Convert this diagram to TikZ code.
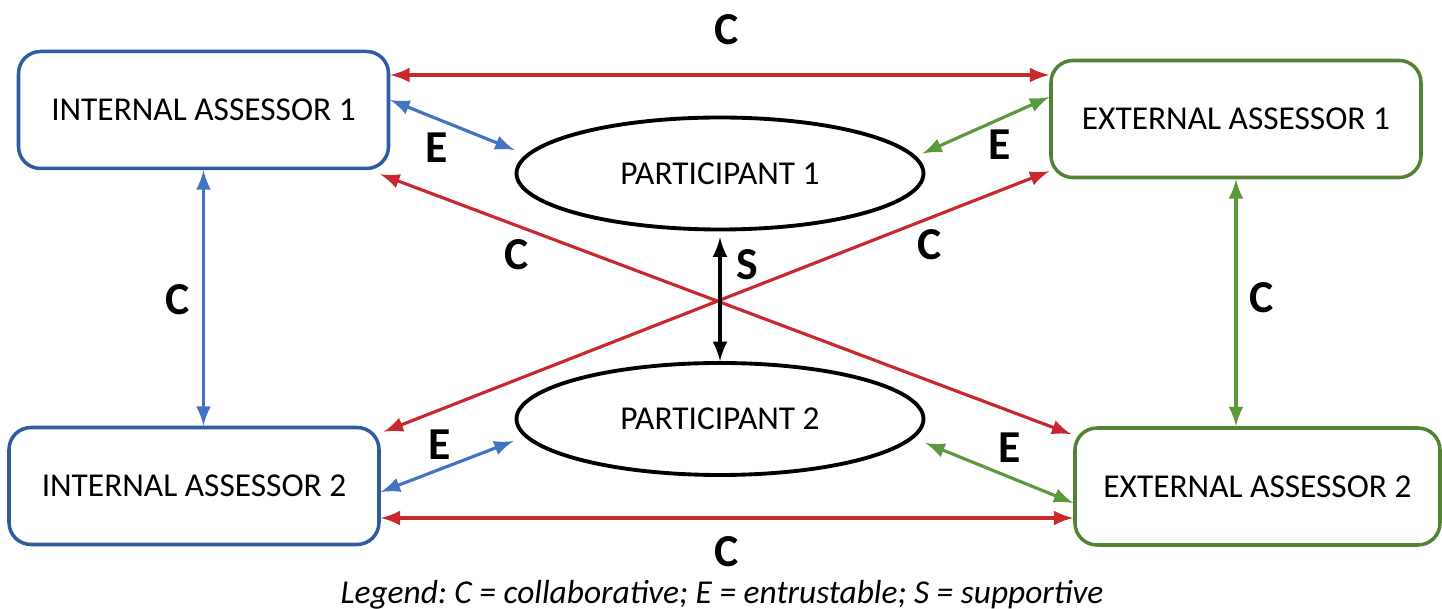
\documentclass[tikz,border=0pt]{standalone}
\usepackage{fontspec}
\setmainfont{Carlito}
\usepackage{tikz}
\usetikzlibrary{arrows,calc,positioning,shapes.geometric}
\definecolor{boxblue}{HTML}{2E5C9E}
\definecolor{arrblue}{HTML}{4472C4}
\definecolor{boxgreen}{HTML}{548235}
\definecolor{arrgreen}{HTML}{5A9A3C}
\definecolor{arrred}{HTML}{C8282E}
\frenchspacing
\begin{document}
\begin{tikzpicture}[>=latex,
	assessor/.style={draw,rounded corners=2.2mm,line width=1pt,minimum width=3.7cm,minimum height=1.17cm,font=\fontsize{9.5}{11}\selectfont},
	participant/.style={draw,ellipse,line width=1.1pt,minimum width=4.07cm,minimum height=1.12cm,inner sep=0pt,font=\fontsize{9.5}{11}\selectfont},
	link/.style={<->,line width=0.9pt},
	lab/.style={font=\fontsize{13}{15}\selectfont\bfseries}]
		\useasboundingbox (0,0) rectangle (14.42,6.09);
		\node[assessor,draw=boxblue] (ia1) at (2.035,4.99) {INTERNAL ASSESSOR 1};
		\node[assessor,draw=boxgreen] (ea1) at (12.36,4.90) {EXTERNAL ASSESSOR 1};
		\node[assessor,draw=boxblue] (ia2) at (1.94,1.23) {INTERNAL ASSESSOR 2};
		\node[assessor,draw=boxgreen,minimum width=3.65cm] (ea2) at (12.575,1.225) {EXTERNAL ASSESSOR 2};
		\node[participant] (p1) at (7.20,4.355) {PARTICIPANT 1};
		\node[participant] (p2) at (7.20,1.90) {PARTICIPANT 2};
		% collaborative links
		\draw[link,arrred] (ia1.east |- 0,5.34) to (ea1.west |- 0,5.34);
		\draw[link,arrred] (ia2.east |- 0,0.91) to (ea2.west |- 0,0.91);
		\draw[link,arrblue] (ia1.south) to (ia1.south |- ia2.north);
		\draw[link,arrgreen] (ea1.south) to (ea1.south |- ea2.north);
		\draw[link,arrred] ([xshift=-1mm,yshift=-0.4mm]ia1.south east) to ([xshift=-0.2mm,yshift=-0.8mm]ea2.north west);
		\draw[link,arrred] ([yshift=0.8mm]ea1.south west) to ([xshift=0.3mm,yshift=-0.6mm]ia2.north east);
		% entrustable links
		\draw[link,arrblue] ([yshift=1mm]ia1.east) to ([yshift=2.35mm]p1.west);
		\draw[link,arrgreen] ([yshift=2.2mm]ea1.west) to ([xshift=-0.3mm,yshift=2mm]p1.east);
		\draw[link,arrblue] ([yshift=-0.6mm]ia2.east) to ([xshift=-0.1mm,yshift=-2.2mm]p2.west);
		\draw[link,arrgreen] ([yshift=-1.65mm]ea2.west) to ([yshift=-2.4mm]p2.east);
		% supportive link
		\draw[link,black,shorten <=0.6mm] (p1.south) to (p2.north);
		\node[lab] (c1) at (7.27,5.79) {C};
		\node[lab] (c2) at (7.27,0.57) {C};
		\node[lab] (c3) at (1.78,3.09) {C};
		\node[lab] (c4) at (12.62,3.11) {C};
		\node[lab] (c5) at (5.17,3.54) {C};
		\node[lab] (c6) at (9.30,3.64) {C};
		\node[lab] (e1) at (4.37,4.61) {E};
		\node[lab] (e2) at (10.00,4.64) {E};
		\node[lab] (e3) at (4.40,1.64) {E};
		\node[lab] (e4) at (10.10,1.61) {E};
		\node[lab] (s1) at (7.47,3.44) {S};
		\node[font=\fontsize{9.5}{11}\selectfont\itshape] (legend) at (7.22,0.14) {Legend: C = collaborative; E = entrustable; S = supportive};
	\end{tikzpicture}
\end{document}
